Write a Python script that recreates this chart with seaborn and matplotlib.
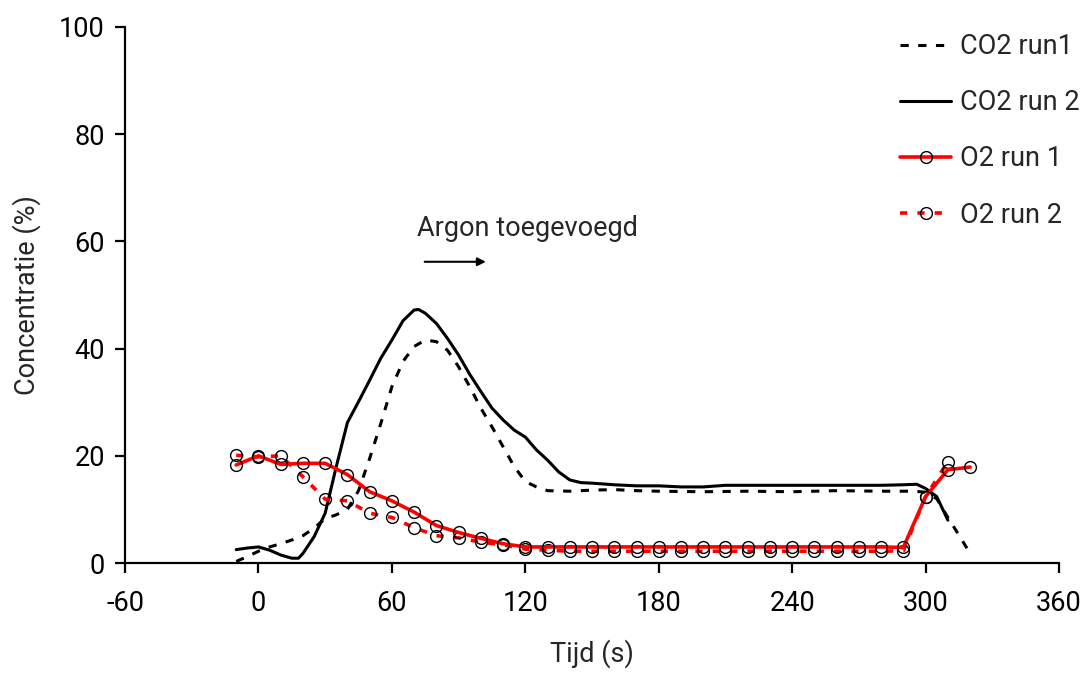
import matplotlib
matplotlib.use("Agg")
import matplotlib.pyplot as plt
import seaborn as sns
import pandas as pd

# ---- data ----
co2_run1_t = [-10, -5, 0, 5, 10, 15, 20, 25, 30, 35, 40, 45, 50, 55, 60, 65, 70, 75, 80, 85,
              90, 95, 100, 105, 110, 115, 120, 125, 130, 140, 150, 160, 170, 180, 200, 220,
              240, 260, 280, 295, 300, 305, 310, 315, 320]
co2_run1_c = [0.3, 1.2, 2.2, 3.0, 3.6, 4.3, 5.1, 6.5, 8.3, 9.0, 10.0, 13.5, 19.5, 26.0, 32.9, 37.6,
              40.4, 41.6, 41.3, 39.7, 36.6, 32.9, 28.9, 25.4, 21.7, 18.0, 15.2, 14.2, 13.5, 13.4,
              13.6, 13.7, 13.5, 13.4, 13.3, 13.4, 13.3, 13.5, 13.4, 13.4, 13.2, 12.0, 8.5, 5.2, 1.8]

co2_run2_t = [-10, -5, 0, 5, 10, 15, 18, 20, 25, 30, 35, 40, 45, 50, 55, 60, 65, 70, 72, 75, 80,
              85, 90, 95, 100, 105, 110, 115, 120, 125, 130, 135, 140, 145, 150, 160, 170, 180,
              190, 200, 210, 220, 240, 260, 280, 290, 296, 300, 305, 310]
co2_run2_c = [2.5, 2.8, 3.0, 2.4, 1.5, 0.9, 0.9, 1.8, 4.9, 9.3, 18.0, 26.2, 30.1, 34.1, 38.2, 41.6,
              45.2, 47.2, 47.3, 46.6, 44.7, 41.9, 38.8, 35.2, 32.0, 28.9, 26.7, 24.8, 23.5, 21.1,
              19.2, 17.0, 15.5, 15.0, 14.9, 14.6, 14.4, 14.4, 14.2, 14.2, 14.5, 14.5, 14.5, 14.5,
              14.5, 14.6, 14.7, 13.9, 12.4, 8.0]

o2_run1_t = [-10, 0, 10, 20, 30, 40, 50, 60, 70, 80, 90, 100, 110, 120, 130, 140, 150, 160, 170,
             180, 190, 200, 210, 220, 230, 240, 250, 260, 270, 280, 290, 300, 310, 320]
o2_run1_c = [18.3, 20.0, 18.4, 18.6, 18.6, 16.5, 13.3, 11.6, 9.5, 7.0, 5.7, 4.6, 3.6, 3.0, 3.0,
             3.0, 3.0, 3.0, 3.0, 3.0, 3.0, 3.0, 3.0, 3.0, 3.0, 3.0, 3.0, 3.0, 3.0, 3.0, 2.9,
             12.4, 17.4, 17.9]

o2_run2_t = [-10, 0, 10, 20, 30, 40, 50, 60, 70, 80, 90, 100, 110, 120, 130, 140, 150, 160, 170,
             180, 190, 200, 210, 220, 230, 240, 250, 260, 270, 280, 290, 300, 310]
o2_run2_c = [20.1, 19.8, 20.0, 16.1, 11.9, 11.6, 9.3, 8.5, 6.6, 5.1, 4.7, 3.9, 3.4, 2.6, 2.4,
             2.2, 2.2, 2.2, 2.2, 2.2, 2.2, 2.2, 2.2, 2.2, 2.2, 2.2, 2.2, 2.2, 2.2, 2.2, 2.3,
             12.4, 18.9]

x_ticks = [-60, 0, 60, 120, 180, 240, 300, 360]
y_ticks = [0, 20, 40, 60, 80, 100]
x_label = "Tijd (s)"
y_label = "Concentratie (%)"
annotation = "Argon toegevoegd"

# ---- style ----
sns.set_theme(style="white")
plt.rcParams['font.family'] = ['Roboto', 'DejaVu Sans']
FS = 19.5

fig = plt.figure(figsize=(10.9, 6.73), dpi=100)
ax = fig.add_axes([0.1147, 0.1634, 0.8569, 0.7965])

df1 = pd.DataFrame({"t": co2_run1_t, "c": co2_run1_c})
df2 = pd.DataFrame({"t": co2_run2_t, "c": co2_run2_c})
df3 = pd.DataFrame({"t": o2_run1_t, "c": o2_run1_c})
df4 = pd.DataFrame({"t": o2_run2_t, "c": o2_run2_c})

sns.lineplot(data=df1, x="t", y="c", ax=ax, color="black", lw=2.2,
             linestyle=(0, (2.7, 3.1)), sort=False, estimator=None, label="CO2 run1")
sns.lineplot(data=df2, x="t", y="c", ax=ax, color="black", lw=2.2,
             sort=False, estimator=None, label="CO2 run 2")
sns.lineplot(data=df4, x="t", y="c", ax=ax, color="red", lw=2.6,
             linestyle=(0, (2, 2.8)), marker="o", markersize=8.5,
             markerfacecolor="none", markeredgecolor="black", markeredgewidth=1.0,
             sort=False, estimator=None, label="O2 run 2")
sns.lineplot(data=df3, x="t", y="c", ax=ax, color="red", lw=2.6,
             marker="o", markersize=8.5,
             markerfacecolor="none", markeredgecolor="black", markeredgewidth=1.0,
             sort=False, estimator=None, label="O2 run 1")

ax.set_xlim(-60, 360)
ax.set_ylim(0, 100)
ax.set_xticks(x_ticks)
ax.set_yticks(y_ticks)
ax.set_xticklabels([str(v) for v in x_ticks], fontsize=FS)
ax.set_yticklabels([str(v) for v in y_ticks], fontsize=FS)
ax.set_xlabel(x_label, fontsize=FS, labelpad=16)
ax.set_ylabel(y_label, fontsize=FS, labelpad=13)

for s in ["top", "right"]:
    ax.spines[s].set_visible(False)
for s in ["left", "bottom"]:
    ax.spines[s].set_color("black")
    ax.spines[s].set_linewidth(1.6)
ax.tick_params(axis="both", direction="out", length=7.5, width=1.6, colors="black",
               bottom=True, left=True)
ax.tick_params(axis="x", pad=12)
ax.tick_params(axis="y", pad=7)
ax.grid(False)

ax.text(71.2, 62.5, annotation, fontsize=FS, va="center", ha="left")
ax.annotate("", xy=(103.5, 56.2), xytext=(73.5, 56.2),
            arrowprops=dict(arrowstyle="-|>", color="black", lw=1.5, mutation_scale=12))

handles, labels = ax.get_legend_handles_labels()
order = ["CO2 run1", "CO2 run 2", "O2 run 1", "O2 run 2"]
hmap = dict(zip(labels, handles))
leg = ax.legend([hmap[k] for k in order], order, loc="upper left",
                bbox_to_anchor=(900 / 1090, 1 - 33 / 673), bbox_transform=fig.transFigure,
                frameon=False, fontsize=FS, borderpad=0, borderaxespad=0,
                handlelength=1.9, handletextpad=0.3, labelspacing=1.08, numpoints=1)

fig.savefig("out.png", dpi=100)
